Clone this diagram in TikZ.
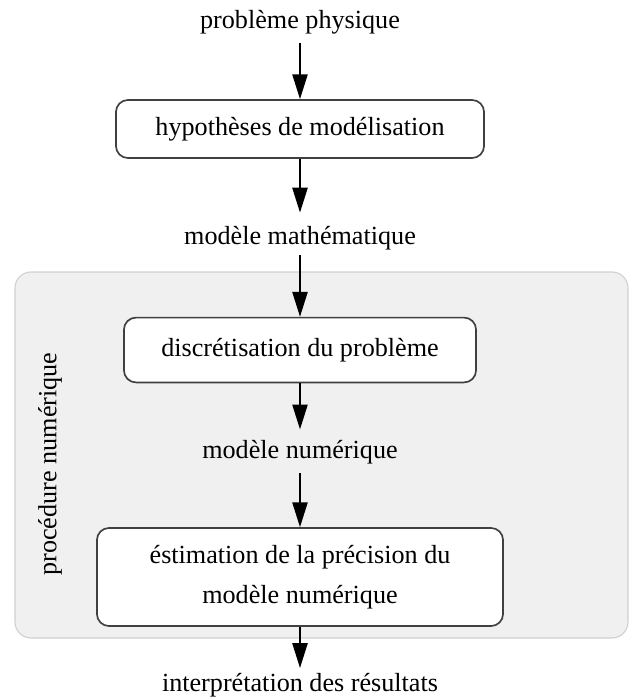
\documentclass[tikz,border=0pt]{standalone}
\usepackage{fontspec}
\setmainfont{Liberation Serif}
\usepackage{tikz}
\usetikzlibrary{arrows.meta,shapes,positioning}

\begin{document}
\begin{tikzpicture}[x=0.025cm,y=-0.025cm,->,>={Triangle[length=0.62cm,width=0.38cm]},
					very thick,
					main node/.style={font=\fontsize{18.6}{28}\selectfont,inner sep=3pt,
						text height=13pt,text depth=4pt},
					box node/.style={main node,draw=black!75,fill=white,rounded corners=0.3cm,
						align=center,text height=,text depth=}]
					
					\useasboundingbox (0,0) rectangle (631,697);
					\fill[gray!12,draw=black!18,thick,rounded corners=0.4cm] (15,272) rectangle (628,638);
					
					\node[main node] (1) at (300,22) {problème physique};
					\node[box node,minimum width=9.2cm,minimum height=1.45cm] (2) at (300,129) {hypothèses de modélisation};
					\node[main node] (3) at (300,238) {modèle mathématique};
					\node[box node,minimum width=8.8cm,minimum height=1.62cm] (4) at (300,350) {discrétisation du problème};
					\node[main node] (5) at (300,452) {modèle numérique};
					\node[box node,minimum width=10.15cm,minimum height=2.45cm] (6) at (300,577) {éstimation de la précision du\\modèle numérique};
					\node[main node] (7) at (300,685) {interprétation des résultats};
					\node[main node,rotate=90] (8) at (50,464) {procédure numérique};
					
					\path
					(1) edge [shorten <=3pt] (2)
					(2) edge [shorten >=6pt] (3)
					(3) edge (4)
					(4) edge [shorten >=4pt] (5)
					(5) edge [shorten <=3pt] (6)
					(6) edge (7);
					    
				\end{tikzpicture}
\end{document}
